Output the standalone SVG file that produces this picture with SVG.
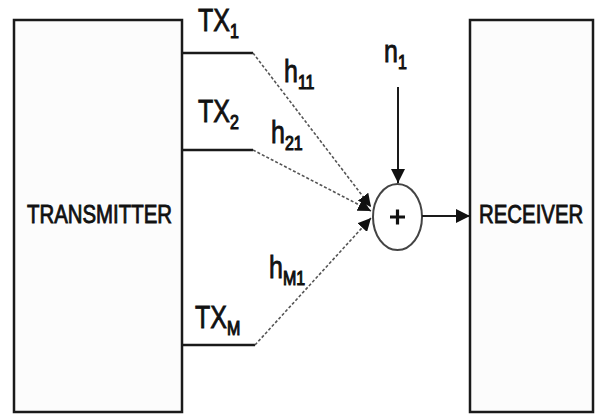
<svg xmlns="http://www.w3.org/2000/svg" width="595" height="415" viewBox="0 0 595 415">
<style>
.box{fill:#fcfcfc;stroke:#1a1a1a;stroke-width:2.5}
.solid{fill:none;stroke:#1a1a1a;stroke-width:2.5}
.dash{fill:none;stroke:#555;stroke-width:1.6;stroke-dasharray:3 2}
.arr{fill:none;stroke:#1a1a1a;stroke-width:2}
text{font-family:"Liberation Sans",Arial,sans-serif;fill:#111;stroke:#111;stroke-width:0.7}
.big{font-size:25px}
.sub{font-size:16px;stroke-width:0.9}
.lbl{font-size:20.4px}
</style>
<defs>
<marker id="ah" viewBox="0 0 10 10" refX="10" refY="5" markerWidth="13" markerHeight="13" markerUnits="userSpaceOnUse" orient="auto">
<path d="M0,0 L10,5 L0,10 z" fill="#111"/>
</marker>
<marker id="ah2" viewBox="0 0 10 10" refX="10" refY="5" markerWidth="14" markerHeight="14" markerUnits="userSpaceOnUse" orient="auto">
<path d="M0,0 L10,5 L0,10 z" fill="#111"/>
</marker>
</defs>
<rect width="595" height="415" fill="#fff"/>
<g id="transmitter">
<rect class="box" x="14" y="20" width="168" height="392"/>
<text class="lbl" transform="translate(27,223) scale(1,1.23)">TRANSMITTER</text>
</g>
<g id="receiver">
<rect class="box" x="470" y="20" width="123" height="392"/>
<text class="lbl" transform="translate(479,223) scale(1,1.23)">RECEIVER</text>
</g>
<g id="adder">
<ellipse cx="397.5" cy="217" rx="24.5" ry="33" fill="#fff" stroke="#444" stroke-width="2"/>
<path d="M390,217 H405 M397.5,209.5 V224.5" stroke="#111" stroke-width="3.2"/>
</g>
<g id="tx1">
<text class="big" transform="translate(198,31) scale(1,1.22)">TX<tspan class="sub" dy="6">1</tspan></text>
</g>
<g id="tx2">
<text class="big" transform="translate(198,122) scale(1,1.22)">TX<tspan class="sub" dy="6">2</tspan></text>
</g>
<g id="txm">
<text class="big" transform="translate(195,328) scale(1,1.22)">TX<tspan class="sub" dy="6">M</tspan></text>
</g>
<g id="n1">
<text class="big" transform="translate(384,62) scale(1,1.22)">n<tspan class="sub" dy="6">1</tspan></text>
</g>
<g id="connectors">
<path class="solid" d="M182,53 H253"/>
<path class="solid" d="M182,150 H253"/>
<path class="solid" d="M182,345 H255"/>
<path class="dash" d="M253,53 L371,207" marker-end="url(#ah)"/>
<path class="dash" d="M253,150 L371,211" marker-end="url(#ah)"/>
<path class="dash" d="M255,345 L371,218" marker-end="url(#ah)"/>
<path class="arr" d="M398,87 V183" marker-end="url(#ah2)"/>
<path class="arr" d="M422,216 H470" marker-end="url(#ah2)"/>
<text class="big" transform="translate(284,82) scale(1,1.22)">h<tspan class="sub" dy="6">11</tspan></text>
<text class="big" transform="translate(271,143) scale(1,1.22)">h<tspan class="sub" dy="6">21</tspan></text>
<text class="big" transform="translate(269,278) scale(1,1.22)">h<tspan class="sub" dy="6">M1</tspan></text>
</g>
</svg>
